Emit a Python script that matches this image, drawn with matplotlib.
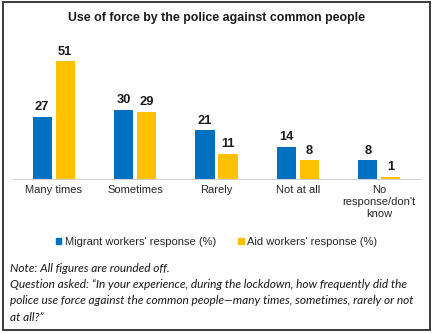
import matplotlib
matplotlib.use("Agg")
import matplotlib.pyplot as plt
from matplotlib.patches import Rectangle
import numpy as np

categories = ["Many times", "Sometimes", "Rarely", "Not at all", "No\nresponse/don't\nknow"]
migrant = [27, 30, 21, 14, 8]
aid = [51, 29, 11, 8, 1]
series_names = ["Migrant workers' response (%)", "Aid workers' response (%)"]
title = "Use of force by the police against common people"
note_lines = [
    "Note: All figures are rounded off.",
    "Question asked: \u201cIn your experience, during the lockdown, how frequently did the",
    "police use force against the common people\u2014many times, sometimes, rarely or not",
    "at all?\u201d",
]

BLUE = "#0070C0"
YELLOW = "#FFC000"

plt.rcParams["font.family"] = ["Liberation Sans", "DejaVu Sans"]

fig = plt.figure(figsize=(4.33, 3.33), dpi=100)
ax = fig.add_axes([0.030, 0.4625, 0.940, 0.42])

x = np.arange(len(categories))
w = 0.235
off = 0.142
b1 = ax.bar(x - off, migrant, w, color=BLUE, zorder=2)
b2 = ax.bar(x + off, aid, w, color=YELLOW, zorder=2)

for bars, vals in ((b1, migrant), (b2, aid)):
    for r, v in zip(bars, vals):
        ax.annotate(str(v), (r.get_x() + r.get_width() / 2, v),
                    xytext=(0, 2.5), textcoords="offset points",
                    ha="center", va="bottom", fontsize=9.3, fontweight="bold",
                    color="#1a1a1a")

ax.set_xlim(-0.5, len(categories) - 0.5)
ax.set_ylim(0, 60.5)
for s in ("top", "right", "left"):
    ax.spines[s].set_visible(False)
ax.spines["bottom"].set_color("#d0d0d0")
ax.spines["bottom"].set_linewidth(0.8)
ax.set_yticks([])
ax.set_xticks(x)
ax.set_xticklabels(categories, fontsize=8, color="#262626", linespacing=1.25)
ax.tick_params(axis="x", length=0, pad=4)

fig.text(0.5, 0.945, title, ha="center", va="center", fontsize=8.9,
         fontweight="bold", color="#1a1a1a")

leg = fig.legend(handles=[Rectangle((0, 0), 1, 1, color=BLUE),
                          Rectangle((0, 0), 1, 1, color=YELLOW)],
                 labels=series_names, loc="center", bbox_to_anchor=(0.5, 0.273),
                 ncol=2, frameon=False, fontsize=8, handlelength=0.5,
                 handleheight=0.5, handletextpad=0.3, columnspacing=2.0)
for t in leg.get_texts():
    t.set_color("#262626")

y0 = 1 - 268 / 333
for i, line in enumerate(note_lines):
    fig.text(0.023, y0 - i * 16.5 / 333, line, ha="left", va="center",
             fontsize=8.6, style="italic", family=["Lato", "DejaVu Sans"],
             color="#1a1a1a")

fig.patches.append(Rectangle((3 / 433, 3 / 333), 427 / 433, 328 / 333,
                             transform=fig.transFigure, fill=False,
                             edgecolor="#3a3a3a", linewidth=1.4))

fig.savefig("out.png", dpi=100)
